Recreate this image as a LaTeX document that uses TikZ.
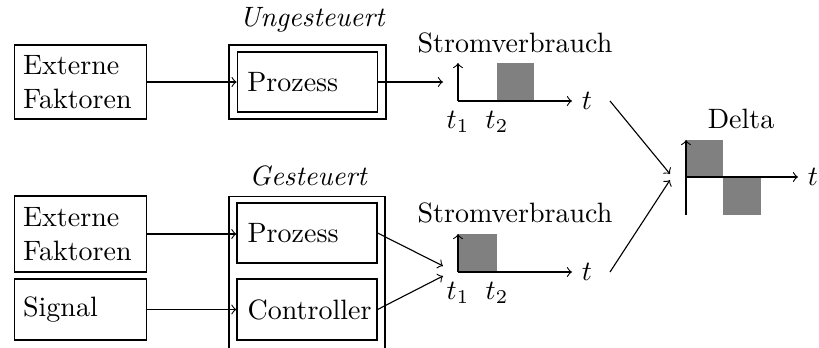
\documentclass[tikz,border=0pt]{standalone}
\begin{document}
\begin{tikzpicture}[x=0.3571pt,y=-0.3571pt,
  box/.style={draw,rectangle,inner xsep=3.2pt,inner ysep=0pt,align=left},
  frame/.style={draw,rectangle,inner sep=0pt},
  lbl/.style={anchor=base},
  bar/.style={fill=gray,draw=none},
  conn/.style={->}]
\useasboundingbox (0,0) rectangle (819,347);
\clip (0,0) rectangle (819,347);

% --- uncontrolled process ---
\node[frame,minimum width=56.1pt,minimum height=26.4pt] (ungframe) at (307.5,82) {};
\node[lbl] (ungtitle) at (312,27) {\itshape Ungesteuert};
\node[box,text width=41pt,minimum height=26.4pt] (ext1) at (80.5,82) {Externe\\Faktoren};
\node[box,inner xsep=3.6pt,text width=43pt,minimum height=21.4pt] (prozU) at (307.5,82) {Prozess};

% --- controlled process ---
\node[frame,minimum width=55.7pt,minimum height=60pt,anchor=north] (gesframe) at (307,196) {};
\node[lbl] (gestitle) at (308,185) {\itshape Gesteuert};
\node[box,text width=41pt,minimum height=27.1pt] (ext2) at (80.5,234) {Externe\\Faktoren};
\node[box,text width=41pt,minimum height=21.8pt] (sig) at (80.5,309.5) {Signal};
\node[box,inner xsep=3.8pt,text width=42.4pt,minimum height=21.4pt] (prozG) at (307,233) {Prozess};
\node[box,inner xsep=3.8pt,text width=42.4pt,minimum height=21.8pt] (ctrl) at (307,309.5) {Controller};

% --- power chart, uncontrolled ---
\coordinate (o1) at (458,101);
\fill[bar] (497,63) rectangle (534,101);
\draw[->] (o1) -- ++(0,-38);
\draw[->] (o1) -- ++(114,0) coordinate (x1);
\node[right] (tx1) at (x1) {$t$};
\node[below] (t11) at (o1) {$t_1$};
\node[below] (t12) at (497,101) {$t_2$};
\node[lbl] (pow1) at (515,53) {Stromverbrauch};

% --- power chart, controlled ---
\coordinate (o2) at (458,272);
\fill[bar] (458,234) rectangle (497,272);
\draw[->] (o2) -- ++(0,-38);
\draw[->] (o2) -- ++(114,0) coordinate (x2);
\node[right] (tx2) at (x2) {$t$};
\node[below] (t21) at (o2) {$t_1$};
\node[below] (t22) at (497,272) {$t_2$};
\node[lbl] (pow2) at (515,222) {Stromverbrauch};

% --- difference chart ---
\coordinate (od) at (686,177);
\fill[bar] (686,140) rectangle (723,177);
\fill[bar] (723,177) rectangle (761,215);
\draw[->] (686,215) -- (686,140);
\draw[->] (od) -- ++(112,0) coordinate (xd);
\node[right] (txd) at (xd) {$t$};
\node[lbl] (deltatitle) at (741,128) {Delta};

% --- connectors ---
\coordinate (in1) at (443,82);
\coordinate (in2a) at (443,266);
\coordinate (in2b) at (443,276);
\coordinate (out1) at (610,101);
\coordinate (out2) at (610,272);
\coordinate (dina) at (670,174);
\coordinate (dinb) at (670,180);

\draw[conn] (ext1.east) -- (prozU.west);
\draw[conn] (prozU.east) -- (in1);
\draw[conn] (ext2.east) -- (ext2.east -| prozG.west);
\draw[conn] (sig.east) -- (ctrl.west);
\draw[conn] (prozG.east) -- (in2a);
\draw[conn] (ctrl.east) -- (in2b);
\draw[conn] (out1) -- (dina);
\draw[conn] (out2) -- (dinb);
\end{tikzpicture}
\end{document}
